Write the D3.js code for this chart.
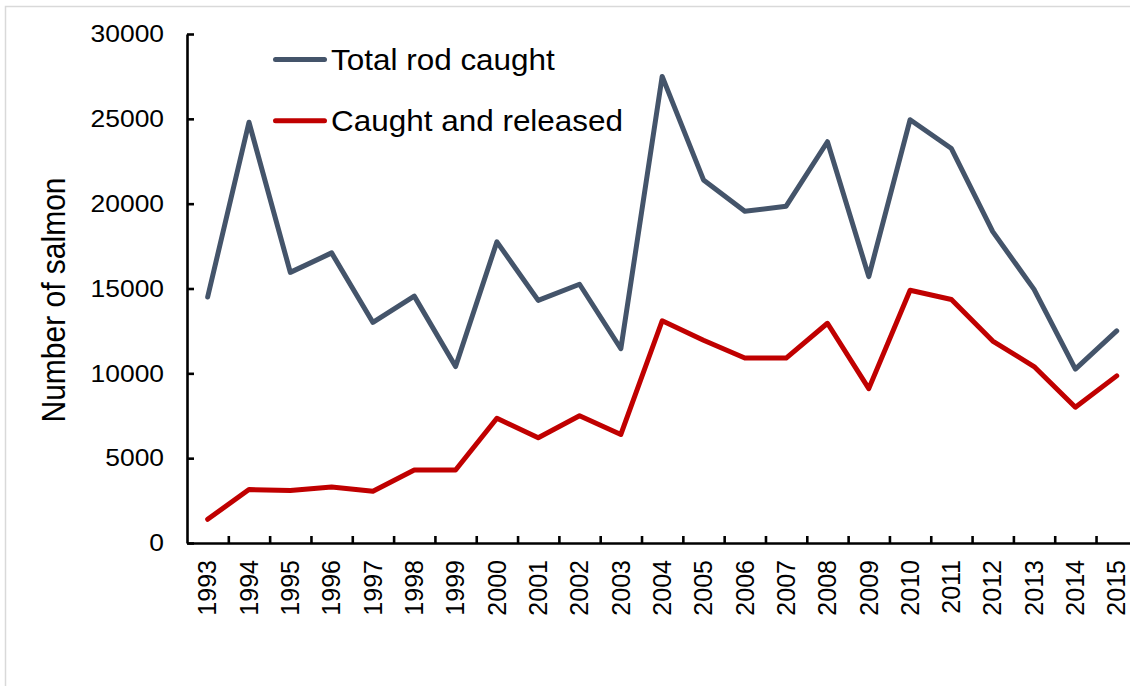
<!DOCTYPE html>
<html>
<head>
<meta charset="utf-8">
<script src="https://cdn.jsdelivr.net/npm/d3@7"></script>
<style>
  html, body { margin: 0; padding: 0; background: #fff; }
  svg { display: block; font-family: "Liberation Sans", Arial, sans-serif; }
</style>
</head>
<body>
<svg id="chart" width="1130" height="686"></svg>
<script>
// Rod catch of salmon per season
const years = ["1993","1994","1995","1996","1997","1998","1999","2000","2001","2002","2003",
               "2004","2005","2006","2007","2008","2009","2010","2011","2012","2013","2014","2015"];
const totalRodCaught = [14500, 24800, 15950, 17100, 13000, 14550, 10400, 17750, 14300, 15250, 11450,
                        27500, 21400, 19550, 19850, 23650, 15700, 24950, 23250, 18350, 14950, 10250, 12500];
const caughtAndReleased = [1400, 3150, 3100, 3300, 3050, 4300, 4300, 7350, 6200, 7500, 6400,
                           13100, 11950, 10900, 10900, 12950, 9100, 14900, 14350, 11900, 10400, 8000, 9850];
const yTicks = [0, 5000, 10000, 15000, 20000, 25000, 30000];
const seriesNames = ["Total rod caught", "Caught and released"];
const seriesColors = ["#44546A", "#C00000"];
const yTitle = "Number of salmon";

// text is drawn slightly wide, like the original Excel export
const stretch = 1.1;

const svg = d3.select("#chart");

// outer chart frame
svg.append("rect")
  .attr("x", 5.5).attr("y", 6.5)
  .attr("width", 1200).attr("height", 800)
  .attr("fill", "none").attr("stroke", "#d9d9d9").attr("stroke-width", 1.5);

const plotLeft = 187, band = 41.32, plotTop = 34, plotBottom = 543;

const x = d3.scaleBand().domain(years).range([plotLeft, plotLeft + band * years.length]);
const xEdges = d3.scaleLinear().domain([0, years.length]).range(x.range());
const y = d3.scaleLinear().domain([0, 30000]).range([plotBottom, plotTop]);

// y axis
const yAxis = svg.append("g")
  .attr("transform", `translate(${plotLeft},0)`)
  .call(d3.axisLeft(y).tickValues(yTicks).tickFormat(d3.format("d"))
        .tickSizeInner(-7).tickSizeOuter(0).tickPadding(23));
yAxis.selectAll("line, path").attr("stroke", "#000").attr("stroke-width", 2.6);
yAxis.selectAll("text")
  .attr("font-size", 24).attr("fill", "#000").attr("font-family", null)
  .attr("x", 0)
  .attr("transform", `translate(-23,0) scale(${stretch},1)`);

// x axis: tick marks at category boundaries
const xAxis = svg.append("g")
  .attr("transform", `translate(0,${plotBottom})`)
  .call(d3.axisBottom(xEdges).tickValues(d3.range(1, years.length)).tickFormat("")
        .tickSizeInner(-7).tickSizeOuter(0));
xAxis.selectAll("line, path").attr("stroke", "#000").attr("stroke-width", 2.6);

// x labels at category centres, rotated
const xLabels = svg.append("g")
  .attr("transform", `translate(0,${plotBottom})`)
  .call(d3.axisBottom(x).tickSize(0));
xLabels.select(".domain").remove();
xLabels.selectAll("text")
  .attr("font-size", 25).attr("fill", "#000").attr("font-family", null)
  .attr("transform", "rotate(-90)")
  .attr("text-anchor", "end")
  .attr("x", -17).attr("y", 0).attr("dy", "0.35em");

// y title
svg.append("text")
  .attr("transform", `translate(65,300) scale(${stretch},1) rotate(-90)`)
  .attr("text-anchor", "middle")
  .attr("font-size", 30)
  .text(yTitle);

// series lines
const line = d3.line().x((d, i) => x(years[i]) + x.bandwidth() / 2).y(d => y(d));
[totalRodCaught, caughtAndReleased].forEach((vals, k) => {
  svg.append("path")
    .datum(vals)
    .attr("d", line)
    .attr("fill", "none")
    .attr("stroke", seriesColors[k])
    .attr("stroke-width", 5)
    .attr("stroke-linejoin", "round")
    .attr("stroke-linecap", "round");
});

// legend
const legend = svg.append("g");
seriesNames.forEach((name, k) => {
  const ly = 59.5 + k * 61.3;
  legend.append("line")
    .attr("x1", 275.5).attr("x2", 324.5).attr("y1", ly).attr("y2", ly)
    .attr("stroke", seriesColors[k]).attr("stroke-width", 5).attr("stroke-linecap", "round");
  legend.append("text")
    .attr("transform", `translate(331,${ly + 10.5}) scale(1.085,1)`)
    .attr("font-size", 29)
    .text(name);
});
</script>
</body>
</html>
